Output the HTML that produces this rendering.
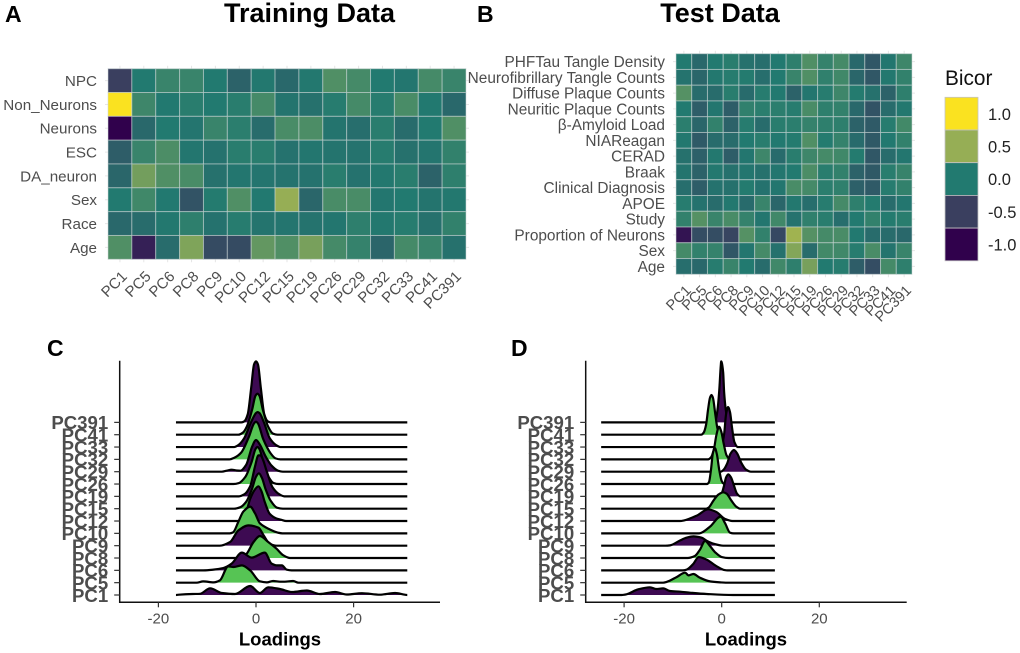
<!DOCTYPE html>
<html>
<head>
<meta charset="utf-8">
<title>Training and Test Data Figure</title>
<style>
html,body{margin:0;padding:0;background:#fff;}
svg{display:block;font-family:"Liberation Sans",sans-serif;}
</style>
</head>
<body>
<svg id="fig" xmlns="http://www.w3.org/2000/svg" width="1020" height="653" viewBox="0 0 1020 653">
<rect width="1020" height="653" fill="#fff"/>
<text x="5" y="22" font-size="23" font-weight="700" fill="#000">A</text>
<text x="477" y="22" font-size="23" font-weight="700" fill="#000">B</text>
<text x="47" y="356" font-size="23" font-weight="700" fill="#000">C</text>
<text x="511" y="356" font-size="23" font-weight="700" fill="#000">D</text>
<text x="309.5" y="22" text-anchor="middle" font-size="27" font-weight="700" fill="#000">Training Data</text>
<text x="720" y="22" text-anchor="middle" font-size="27" font-weight="700" fill="#000">Test Data</text>
<text x="945" y="85" font-size="20.8" fill="#111">Bicor</text>
</svg>
<script>
const pcLabels = ["PC1","PC5","PC6","PC8","PC9","PC10","PC12","PC15","PC19","PC26","PC29","PC32","PC33","PC41","PC391"];

const trainRows = ["NPC","Non_Neurons","Neurons","ESC","DA_neuron","Sex","Race","Age"];
const trainNPC = [-.5,0,.1,.1,0,-.2,-.02,-.15,-.02,.2,.15,0,-.03,.15,.1];
const trainNonNeurons = [1,.12,-.01,.03,0,.03,.15,-.05,-.08,.02,.15,.02,.17,-.01,-.15];
const trainNeurons = [-1,-.15,0,-.04,.1,.04,-.12,.17,.18,-.05,-.1,.03,-.12,0,.2];
const trainESC = [-.25,.1,.18,-.03,-.07,.03,.03,-.07,-.03,-.05,-.06,.02,-.08,-.04,.07];
const trainDA = [-.17,.35,.2,.17,-.08,-.03,-.04,-.06,-.07,.03,-.07,-.02,.03,-.2,.05];
const trainSex = [0,.13,-.01,-.33,.01,.2,-.01,.5,-.17,.17,.17,-.03,0,-.05,-.02];
const trainRace = [-.15,-.12,-.02,.05,-.07,.02,-.05,-.04,-.06,-.03,.05,-.02,.02,-.08,.07];
const trainAge = [.2,-.75,-.12,.4,-.4,-.4,.28,.2,.37,.15,.08,-.18,.15,.1,-.08];
const trainValues = [trainNPC,trainNonNeurons,trainNeurons,trainESC,trainDA,trainSex,trainRace,trainAge];

const testRows = ["PHFTau Tangle Density","Neurofibrillary Tangle Counts","Diffuse Plaque Counts","Neuritic Plaque Counts","β-Amyloid Load","NIAReagan","CERAD","Braak","Clinical Diagnosis","APOE","Study","Proportion of Neurons","Sex","Age"];
const testPHF = [0,-.15,0,.03,-.08,-.1,-.01,.05,.2,.08,.15,-.15,-.3,-.03,.12];
const testNFT = [-.06,-.17,-.02,.02,.01,-.1,0,.1,.2,.06,.13,-.17,-.3,-.02,.07];
const testDiffuse = [.22,-.12,-.12,.03,-.13,.02,-.01,-.2,-.03,.02,.12,.01,-.08,-.2,.05];
const testNeuritic = [0,-.25,-.03,-.25,.06,.04,.04,.02,.17,.05,.07,-.15,-.33,-.12,-.02];
const testAmyloid = [.04,-.17,.07,-.2,.02,-.12,.03,.04,.08,.05,.05,-.2,-.27,.02,.14];
const testNIA = [-.02,-.27,-.12,-.12,0,.03,-.01,.01,.2,.01,.08,-.13,-.28,-.01,.07];
const testCERAD = [-.08,-.22,-.02,-.25,-.03,.12,-.13,.03,.12,.15,.13,.01,-.3,-.12,-.03];
const testBraak = [-.05,-.2,-.02,-.08,-.03,-.08,-.03,0,.18,.03,.07,-.2,-.28,.03,.09];
const testClinical = [-.1,-.25,-.07,-.08,.01,-.07,-.03,.17,.15,.04,.06,-.22,-.27,.02,.07];
const testAPOE = [.02,-.07,-.12,-.02,-.13,.1,-.17,-.02,-.1,.02,.15,.05,.01,-.12,-.03];
const testStudy = [.07,.22,.1,.17,.08,-.03,.13,-.07,.06,.03,-.1,0,.07,.01,.03];
const testProp = [-.85,-.38,-.38,-.45,.22,.07,-.42,.55,.22,.15,.17,-.01,-.12,-.12,-.15];
const testSex = [.15,.07,.08,-.3,-.03,.15,-.08,.42,-.12,.14,.13,.02,.17,-.05,.1];
const testAge = [-.1,-.15,.02,.1,0,-.12,.13,.05,.37,0,.02,-.25,-.38,.15,.05];
const testValues = [testPHF,testNFT,testDiffuse,testNeuritic,testAmyloid,testNIA,testCERAD,testBraak,testClinical,testAPOE,testStudy,testProp,testSex,testAge];

const legendValues = [1,.5,0,-.5,-1];
const legendLabels = ["1.0","0.5","0.0","-0.5","-1.0"];
const scaleBreaks = [-1,-.5,0,.5,1];
const scaleColors = [[48,1,76],[58,63,95],[34,122,112],[150,174,85],[250,226,32]];

const xTickValues = [-20,0,20];
const ridgeNames = ["PC1","PC5","PC6","PC8","PC9","PC10","PC12","PC15","PC19","PC26","PC29","PC32","PC33","PC41","PC391"];
const rangeC = [-16.4,31];
const rangeD = [-24.7,10.9];

const cX391 = [-3,-2.4,-1.7,-1,-.4,0,.4,1,1.7,2.4,3];
const cD391 = [0,.01,.08,.34,.58,.61,.58,.34,.08,.01,0];
const cX41 = [-3.6,-2.7,-1.9,-.8,-.1,.3,.7,1.4,2.5,3.5,4.4];
const cD41 = [0,.02,.08,.25,.39,.41,.39,.25,.08,.01,0];
const cX33 = [-4.5,-3.6,-2.4,-1,0,.3,.7,1.6,2.8,4.1,5];
const cD33 = [0,.02,.09,.25,.34,.35,.34,.25,.09,.02,0];
const cX32 = [-5.5,-4.3,-3,-1.5,-.4,0,.4,1.5,3,4,5];
const cD32 = [0,.02,.07,.22,.36,.377,.36,.2,.06,.01,0];
const cX29 = [-7,-6,-5,-4,-3.2,-2,-.8,0,.8,2,3.2,4.5,5.5];
const cD29 = [0,.01,.02,.012,.01,.07,.25,.317,.27,.15,.06,.01,0];
const cX26 = [-4.6,-3.5,-2.2,-.9,-.1,.3,.7,1.5,2.6,3.6,4.6];
const cD26 = [0,.01,.07,.22,.35,.37,.35,.22,.07,.01,0];
const cX19 = [-3.5,-2.4,-1.2,-.2,.5,.9,1.4,2.2,3.4,4.8,5.8];
const cD19 = [0,.02,.1,.3,.41,.41,.37,.25,.09,.02,0];
const cX15 = [-4.5,-3.2,-2,-.8,0,.6,1.2,2,3,4.3,5.5];
const cD15 = [0,.015,.07,.2,.32,.354,.31,.19,.08,.01,0];
const cX12 = [-3.5,-2.3,-1.2,-.3,.5,1.1,1.8,2.8,4.2,5.2,6.2];
const cD12 = [0,.05,.22,.31,.347,.3,.19,.073,.025,.012,0];
const cX10 = [-5.4,-4.7,-3.6,-2.6,-1.2,-.2,.8,2.8,4.5,5.4];
const cD10 = [0,.01,.117,.217,.267,.2,.1,.04,.007,0];
const cX9 = [-7.4,-5.3,-3.6,-1.5,.5,1.6,2.8,4.2];
const cD9 = [0,.037,.153,.203,.18,.1,.02,0];
const cX8 = [-2.9,-1.9,-.5,.8,2.5,4.2,5.6,7];
const cD8 = [0,.043,.16,.22,.16,.093,.027,0];
const cX6 = [-10.8,-8.7,-6.7,-5,-2.9,-.9,1.8,3.2,4.2,5.3,6.3,7.3];
const cD6 = [0,.007,.023,.067,.177,.127,.177,.067,.05,.05,.007,0];
const cX5 = [-12.2,-10.8,-8.7,-7.4,-5.7,-4.6,-2.9,-1.2,.8,2.2,3.5,4.9,5.9,7.6,8.7];
const cD5 = [0,.013,.003,.023,.163,.157,.173,.123,.013,.003,.017,.01,.01,.017,0];
const cX1 = [-15.8,-13,-11.5,-9.4,-7,-4.3,-1.2,.8,2.5,4.9,7.4,10.4,13.1,16.2,18.6,21.7,25.4,28.5,30.5];
const cD1 = [.003,.01,.012,.067,.02,.01,.09,.02,.077,.06,.03,.045,.01,.03,.005,.018,.003,.02,.003];
const ridgeXC = [cX1,cX5,cX6,cX8,cX9,cX10,cX12,cX15,cX19,cX26,cX29,cX32,cX33,cX41,cX391];
const ridgeDC = [cD1,cD5,cD6,cD8,cD9,cD10,cD12,cD15,cD19,cD26,cD29,cD32,cD33,cD41,cD391];

const dX391 = [-1.8,-1.2,-.8,-.5,-.2,-.1,0,.3,.5,.8,1.2,1.8];
const dD391 = [0,.03,.15,.32,.56,.61,.6,.5,.3,.14,.03,0];
const dX41 = [-4.2,-3.7,-3.2,-2.8,-2.4,-2.1,-1.8,-1.3,-.9,-.4];
const dD41 = [0,.02,.1,.25,.37,.397,.37,.2,.07,0];
const dX33 = [-.4,.1,.5,.9,1.3,1.7,2.1,2.6,3.3];
const dD33 = [0,.03,.13,.33,.4,.35,.2,.05,0];
const dX32 = [-2.8,-2.2,-1.6,-1.1,-.55,-.1,.4,1,1.7];
const dD32 = [0,.02,.1,.24,.327,.28,.16,.04,0];
const dX29 = [-.2,.4,1.1,1.8,2.5,3.2,4,5,6];
const dD29 = [0,.02,.08,.18,.217,.18,.09,.02,0];
const dX26 = [-3,-2.6,-2.2,-1.8,-1.4,-1,-.5,0,.5];
const dD26 = [0,.02,.14,.31,.36,.3,.14,.03,0];
const dX19 = [-.6,0,.5,.9,1.35,1.9,2.5,3.1,3.8];
const dD19 = [0,.03,.11,.19,.22,.19,.11,.03,0];
const dX15 = [-3.2,-2.7,-1.7,-.7,.3,1,2,3,3.8];
const dD15 = [0,.01,.08,.14,.164,.15,.08,.02,0];
const dX12 = [-8.5,-7.8,-5,-2.8,-1.1,.6,2.2];
const dD12 = [0,.005,.057,.117,.09,.023,0];
const dX10 = [-4.6,-4.1,-2.4,-.2,.7,1.7,2.5];
const dD10 = [0,.007,.067,.167,.1,.007,0];
const dX9 = [-11.5,-10.6,-8.5,-7.2,-5.8,-4.1,-3.1,-1.7,.3];
const dD9 = [0,.003,.053,.08,.093,.08,.05,.02,0];
const dX8 = [-7,-5.5,-4.5,-3.4,-2.4,-1.4,0,1.4];
const dD8 = [0,.02,.08,.17,.12,.06,.01,0];
const dX6 = [-8,-7.2,-5.9,-4.7,-3.1,-1.1,.6,1.2];
const dD6 = [0,.007,.06,.133,.107,.043,.003,0];
const dX5 = [-12,-11.3,-9.2,-7.5,-6.8,-5.8,-4.5,-2.4,-.3,.8];
const dD5 = [0,.007,.057,.1,.073,.087,.05,.013,.003,0];
const dX1 = [-20.5,-19.5,-17.1,-14.7,-13.4,-12,-10.6,-8.5,-6.5,-3.1,2.3];
const dD1 = [0,.007,.057,.077,.06,.067,.04,.033,.023,.01,0];
const ridgeXD = [dX1,dX5,dX6,dX8,dX9,dX10,dX12,dX15,dX19,dX26,dX29,dX32,dX33,dX41,dX391];
const ridgeDD = [dD1,dD5,dD6,dD8,dD9,dD10,dD12,dD15,dD19,dD26,dD29,dD32,dD33,dD41,dD391];

const NS = "http://www.w3.org/2000/svg";
const svg = document.getElementById("fig");

function el(tag, attrs, parent, text) {
  const e = document.createElementNS(NS, tag);
  for (const k in attrs) e.setAttribute(k, attrs[k]);
  if (text !== undefined) e.textContent = text;
  (parent || svg).appendChild(e);
  return e;
}

function colorFor(v) {
  const c = Math.max(-1, Math.min(1, v));
  let i = 0;
  while (i < scaleBreaks.length - 2 && c > scaleBreaks[i + 1]) i++;
  const t = (c - scaleBreaks[i]) / (scaleBreaks[i + 1] - scaleBreaks[i]);
  const a = scaleColors[i], b = scaleColors[i + 1];
  return "rgb(" + [0, 1, 2].map(function (j) { return Math.round(a[j] + (b[j] - a[j]) * t); }).join(",") + ")";
}

function slug(s) {
  return s.toLowerCase().replace(/[^a-z0-9]+/g, "-").replace(/^-|-$/g, "");
}

function drawHeatmap(key, rows, values, box, rowFont, tickFont, tickDx, tickDy) {
  const g = el("g", {});
  
  
  const cw = (box.x1 - box.x0) / pcLabels.length;
  const ch = (box.y1 - box.y0) / rows.length;
  const xAt = function (i) { return box.x0 + i * cw; };
  const yAt = function (r) { return box.y0 + r * ch; };
  pcLabels.forEach(function (lab, i) {
    const gl = el("line", { x1: xAt(i) + cw / 2, x2: xAt(i) + cw / 2, y1: box.y0 - 3, y2: box.y1 + 3, stroke: "#e6e6e6", "stroke-width": 1 }, g);
    
    
  });
  rows.forEach(function (lab, r) {
    const gl = el("line", { x1: box.x0 - 3, x2: box.x1 + 3, y1: yAt(r) + ch / 2, y2: yAt(r) + ch / 2, stroke: "#e6e6e6", "stroke-width": 1 }, g);
    
    
  });
  values.forEach(function (row, r) {
    row.forEach(function (v, c) {
      const cell = el("rect", { x: xAt(c), y: yAt(r), width: cw, height: ch, fill: colorFor(v), stroke: "rgba(205,215,215,.55)", "stroke-width": 1 }, g);
      
      
    });
  });
  rows.forEach(function (lab, r) {
    const t = el("text", { x: box.x0 - 11, y: yAt(r) + ch / 2 + rowFont * 0.36, "text-anchor": "end", "font-size": rowFont, fill: "#4d4d4d" }, g, lab);
    
    
  });
  pcLabels.forEach(function (lab, i) {
    const px = xAt(i) + cw / 2 + tickDx;
    const py = box.y1 + tickDy;
    const t = el("text", { x: px, y: py, "text-anchor": "end", "font-size": tickFont, fill: "#4d4d4d", transform: "rotate(-45 " + px + " " + py + ")" }, g, lab);
    
    
  });
}

function monotonePath(xs, ys) {
  const n = xs.length, d = [], m = [];
  for (let i = 0; i < n - 1; i++) d.push((ys[i + 1] - ys[i]) / (xs[i + 1] - xs[i]));
  m[0] = 0; m[n - 1] = 0;
  for (let i = 1; i < n - 1; i++) {
    m[i] = d[i - 1] * d[i] <= 0 ? 0 : 2 * d[i - 1] * d[i] / (d[i - 1] + d[i]);
  }
  let p = "M" + xs[0].toFixed(2) + " " + ys[0].toFixed(2);
  for (let i = 0; i < n - 1; i++) {
    const h = (xs[i + 1] - xs[i]) / 3;
    p += "C" + (xs[i] + h).toFixed(2) + " " + (ys[i] + m[i] * h).toFixed(2) + " " +
      (xs[i + 1] - h).toFixed(2) + " " + (ys[i + 1] - m[i + 1] * h).toFixed(2) + " " +
      xs[i + 1].toFixed(2) + " " + ys[i + 1].toFixed(2);
  }
  return p;
}

function drawRidges(key, loadings, densities, range, frame) {
  const g = el("g", {});
  
  
  const xScale = function (v) { return frame.zero + v * frame.perUnit; };
  const baseAt = function (i) { return frame.base - i * frame.step; };
  const densityToPx = function (d) { return d * 100; };
  for (let i = ridgeNames.length - 1; i >= 0; i--) {
    const xv = [range[0]].concat(loadings[i], [range[1]]);
    const dv = [0].concat(densities[i], [0]);
    const b = baseAt(i);
    const xs = xv.map(xScale);
    const ys = dv.map(function (d) { return b - densityToPx(d); });
    const curve = monotonePath(xs, ys);
    const fill = i % 2 === 0 ? "#3d0a52" : "#56c454";
    const area = el("path", { d: curve + "L" + xs[xs.length - 1] + " " + b + "L" + xs[0] + " " + b + "Z", fill: fill, stroke: "none" }, g);
    
    
    const line = el("path", { d: curve, fill: "none", stroke: "#000", "stroke-width": 2.2, "stroke-linejoin": "round" }, g);
    
    
  }
  const yAxis = el("line", { x1: frame.left, x2: frame.left, y1: frame.top, y2: frame.bottom + .7, stroke: "#111", "stroke-width": 1.5 }, g);
  
  
  const xAxis = el("line", { x1: frame.left, x2: frame.right, y1: frame.bottom, y2: frame.bottom, stroke: "#111", "stroke-width": 1.5 }, g);
  
  
  ridgeNames.forEach(function (name, i) {
    const b = baseAt(i);
    const tick = el("line", { x1: frame.left - 5.5, x2: frame.left, y1: b, y2: b, stroke: "#333", "stroke-width": 1.2 }, g);
    
    
  });
  for (let i = ridgeNames.length - 1; i >= 0; i--) {
    const t = el("text", { x: frame.left - 11.5, y: baseAt(i) + 6.8, "text-anchor": "end", "font-size": 18.6, "font-weight": 700, fill: "#4d4d4d" }, g, ridgeNames[i]);
    
    
  }
  xTickValues.forEach(function (v) {
    const px = xScale(v);
    const tick = el("line", { x1: px, x2: px, y1: frame.bottom, y2: frame.bottom + 5, stroke: "#333", "stroke-width": 1.2 }, g);
    
    
    const t = el("text", { x: px, y: frame.bottom + 21, "text-anchor": "middle", "font-size": 15, fill: "#4d4d4d" }, g, String(v));
    
    
  });
  const title = el("text", { x: frame.titleX, y: frame.bottom + 43, "text-anchor": "middle", "font-size": 18.5, "font-weight": 700, fill: "#000" }, g, "Loadings");
  
  
}

drawHeatmap("training", trainRows, trainValues, { x0: 108, x1: 466, y0: 68.7, y1: 259.3 }, 15.2, 15, 8, 18);
drawHeatmap("test", testRows, testValues, { x0: 676, x1: 912, y0: 53.7, y1: 274.3 }, 15.4, 14.5, 8, 17);

const legendGroup = el("g", {});


legendValues.forEach(function (v, i) {
  const sw = el("rect", { x: 945, y: 97.3 + i * 32.7, width: 33, height: 32.7, fill: colorFor(v), stroke: "#c4c4c4", "stroke-width": .8 }, legendGroup);
  
  
  const t = el("text", { x: 988, y: 119.8 + i * 32.7, "font-size": 16.5, fill: "#222" }, legendGroup, legendLabels[i]);
  
  
});

drawRidges("training", ridgeXC, ridgeDC, rangeC, { zero: 256, perUnit: 4.88, base: 595, step: 12.33, left: 119.7, right: 440, top: 360.7, bottom: 602.3, titleX: 280 });
drawRidges("test", ridgeXD, ridgeDD, rangeD, { zero: 721.7, perUnit: 4.88, base: 595, step: 12.33, left: 585.7, right: 906.7, top: 360.7, bottom: 602.3, titleX: 746 });
</script>
</body>
</html>
